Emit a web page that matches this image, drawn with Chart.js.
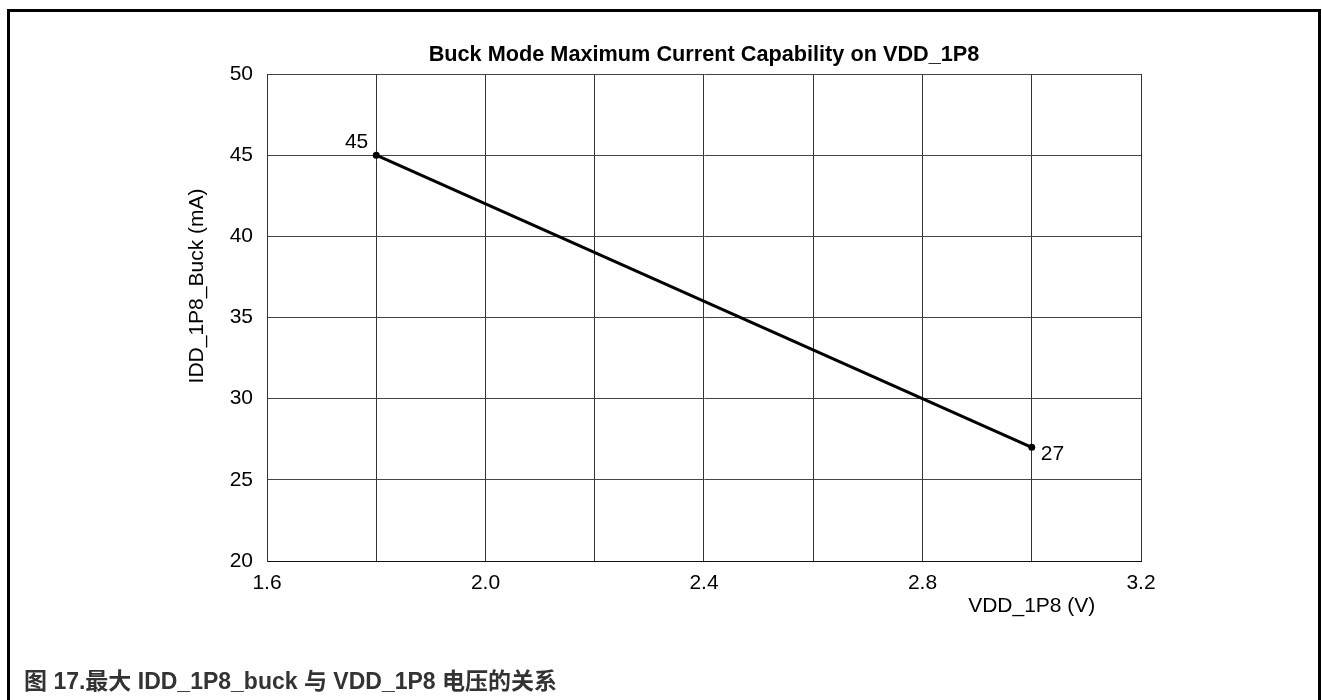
<!DOCTYPE html>
<html>
<head>
<meta charset="utf-8">
<script src="https://cdn.jsdelivr.net/npm/chart.js@4.4.1/dist/chart.umd.min.js"></script>
<style>
  html, body { margin: 0; padding: 0; background: #fff; width: 1322px; height: 700px; overflow: hidden; }
  #frame { position: absolute; left: 7px; top: 9px; width: 1314px; height: 720px; border: 3px solid #000; border-bottom: none; box-sizing: border-box; }
  #plot { position: absolute; left: 0; top: 0; }
  #caption { position: absolute; left: 24px; top: 662px; font: bold 23px "Liberation Sans", Arial, "Noto Sans CJK SC", sans-serif; color: #333; white-space: nowrap; }
</style>
</head>
<body>
<div id="frame"></div>
<canvas id="plot" width="1322" height="700"></canvas>
<div id="caption">图 17.最大 IDD_1P8_buck 与 VDD_1P8 电压的关系</div>
<script>
// Supply voltage (V) and the buck current limit (mA) at each end of the curve
const voltage = [1.8, 3.0];
const currentMa = [45, 27];

// Axis labelling
const xTickLabels = ['1.6', '2.0', '2.4', '2.8', '3.2'];
const yTickLabels = ['20', '25', '30', '35', '40', '45', '50'];
const chartTitle = 'Buck Mode Maximum Current Capability on VDD_1P8';
const xAxisTitle = 'VDD_1P8 (V)';
const yAxisTitle = 'IDD_1P8_Buck (mA)';

const FONT = '"Liberation Sans", Arial, sans-serif';

// Title over the plot, values beside the end points, and the two axis titles
const annotate = {
  id: 'annotate',
  afterDatasetsDraw(chart) {
    const ctx = chart.ctx;
    const pts = chart.getDatasetMeta(0).data;
    const area = chart.chartArea;
    ctx.save();
    ctx.fillStyle = '#000';

    // chart title centred over the plot area
    ctx.font = 'bold 21.7px ' + FONT;
    ctx.textAlign = 'center';
    ctx.textBaseline = 'middle';
    ctx.fillText(chartTitle, (area.left + area.right) / 2, area.top - 19);

    ctx.font = '21px ' + FONT;
    const first = pts[0];
    ctx.textAlign = 'right';
    ctx.textBaseline = 'alphabetic';
    ctx.fillText(String(currentMa[0]), first.x - 8, first.y - 7);

    const last = pts[pts.length - 1];
    ctx.textAlign = 'left';
    ctx.textBaseline = 'middle';
    ctx.fillText(String(currentMa[currentMa.length - 1]), last.x + 9, last.y + 7);

    // x-axis title sits under the right part of the axis
    const xs = chart.scales.x;
    ctx.textAlign = 'center';
    ctx.textBaseline = 'middle';
    ctx.fillText(xAxisTitle, xs.getPixelForValue(3.0), area.bottom + 45);

    // y-axis title, rotated
    ctx.translate(area.left - 70, area.top + 212);
    ctx.rotate(-Math.PI / 2);
    ctx.fillText(yAxisTitle, 0, 0);
    ctx.restore();
  }
};

new Chart(document.getElementById('plot'), {
  type: 'line',
  data: {
    datasets: [{
      data: voltage.map((v, i) => ({ x: v, y: currentMa[i] })),
      borderColor: '#000',
      borderWidth: 3,
      pointRadius: 3.5,
      pointBackgroundColor: '#000',
      pointBorderColor: '#000',
      pointBorderWidth: 0,
      tension: 0
    }]
  },
  options: {
    responsive: false,
    animation: false,
    devicePixelRatio: 1,
    layout: { padding: { left: 0, right: 181, top: 74, bottom: 0 } },
    plugins: {
      legend: { display: false },
      tooltip: { enabled: false },
      title: { display: false }
    },
    scales: {
      x: {
        type: 'linear',
        min: 1.6,
        max: 3.2,
        afterFit(scale) { scale.height = 139; },
        ticks: {
          stepSize: 0.2,
          color: '#000',
          font: { family: FONT, size: 21 },
          padding: 10,
          maxRotation: 0,
          autoSkip: false,
          callback(value) {
            const s = Number(value).toFixed(1);
            return xTickLabels.includes(s) ? s : '';
          }
        },
        grid: { color: '#333', lineWidth: 1, drawTicks: false },
        border: { color: '#111', width: 1 }
      },
      y: {
        type: 'linear',
        min: 20,
        max: 50,
        afterFit(scale) { scale.width = 267; },
        ticks: {
          stepSize: 5,
          color: '#000',
          font: { family: FONT, size: 21 },
          padding: 14,
          callback(value) {
            const s = String(value);
            return yTickLabels.includes(s) ? s : '';
          }
        },
        grid: { color: '#444', lineWidth: 1, drawTicks: false },
        border: { color: '#333', width: 1 }
      }
    }
  },
  plugins: [annotate]
});
</script>
</body>
</html>
